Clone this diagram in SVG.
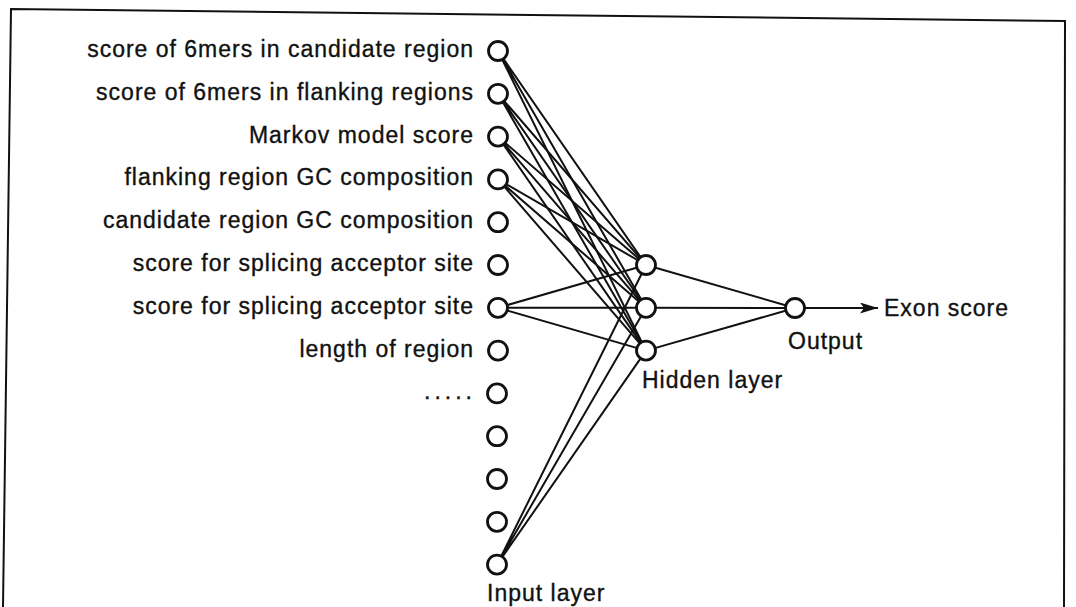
<svg xmlns="http://www.w3.org/2000/svg" width="1076" height="607" viewBox="0 0 1076 607">
<defs>
<style>
.lbl{font-family:"Liberation Sans",Arial,Helvetica,sans-serif;font-size:23px;letter-spacing:1px;fill:#111;stroke:#111;stroke-width:0.35}
.r{text-anchor:end}
.dots{letter-spacing:4px}
.node{fill:#fff;stroke:#111;stroke-width:2.8}
.edge{stroke:#111;stroke-width:2;fill:none}
.frame{stroke:#111;stroke-width:2;fill:none}
</style>
<marker id="arr" viewBox="0 0 18 11" refX="18" refY="5.5" markerWidth="18" markerHeight="11" markerUnits="userSpaceOnUse" orient="auto">
<path d="M0,0 L18,5.5 L0,11 L4,5.5 Z" fill="#111"/>
</marker>
</defs>
<rect width="1076" height="607" fill="#fff"/>
<path class="frame" d="M3,607 L11,9 L1065,21 L1064,607"/>

<g id="connectors" class="edge">
<path d="M498,51 L646,265 M498,51 L646,307.8 M498,51 L646,350.6"/>
<path d="M498,93.8 L646,265 M498,93.8 L646,307.8 M498,93.8 L646,350.6"/>
<path d="M498,136.6 L646,265 M498,136.6 L646,307.8 M498,136.6 L646,350.6"/>
<path d="M498,179.4 L646,265 M498,179.4 L646,307.8 M498,179.4 L646,350.6"/>
<path d="M498,307.8 L646,265 M498,307.8 L646,307.8 M498,307.8 L646,350.6"/>
<path d="M497,564.6 L646,265 M497,564.6 L646,307.8 M497,564.6 L646,350.6"/>
<path d="M646,265 L795,308 M646,307.8 L795,308 M646,350.6 L795,308"/>
<path d="M805,308 L878,308" marker-end="url(#arr)"/>
</g>

<g id="in1"><circle class="node" cx="498" cy="51" r="9.5"/><text class="lbl r" x="474" y="57">score of 6mers in candidate region</text></g>
<g id="in2"><circle class="node" cx="498" cy="93.8" r="9.5"/><text class="lbl r" x="474" y="99.8">score of 6mers in flanking regions</text></g>
<g id="in3"><circle class="node" cx="498" cy="136.6" r="9.5"/><text class="lbl r" x="474" y="142.6">Markov model score</text></g>
<g id="in4"><circle class="node" cx="498" cy="179.4" r="9.5"/><text class="lbl r" x="474" y="185.4">flanking region GC composition</text></g>
<g id="in5"><circle class="node" cx="498" cy="222.2" r="9.5"/><text class="lbl r" x="474" y="228.2">candidate region GC composition</text></g>
<g id="in6"><circle class="node" cx="498" cy="265" r="9.5"/><text class="lbl r" x="474" y="271">score for splicing acceptor site</text></g>
<g id="in7"><circle class="node" cx="498" cy="307.8" r="9.5"/><text class="lbl r" x="474" y="313.8">score for splicing acceptor site</text></g>
<g id="in8"><circle class="node" cx="498" cy="350.6" r="9.5"/><text class="lbl r" x="474" y="356.6">length of region</text></g>
<g id="in9"><circle class="node" cx="497" cy="393.4" r="9.5"/><text class="lbl r dots" x="476" y="399.4">.....</text></g>
<g id="in10"><circle class="node" cx="497" cy="436.2" r="9.5"/></g>
<g id="in11"><circle class="node" cx="497" cy="479" r="9.5"/></g>
<g id="in12"><circle class="node" cx="497" cy="521.8" r="9.5"/></g>
<g id="in13"><circle class="node" cx="497" cy="564.6" r="9.5"/><text class="lbl" x="487" y="601">Input layer</text></g>

<g id="h1"><circle class="node" cx="646" cy="265" r="9.5"/></g>
<g id="h2"><circle class="node" cx="646" cy="307.8" r="9.5"/></g>
<g id="h3"><circle class="node" cx="646" cy="350.6" r="9.5"/><text class="lbl" x="642" y="388">Hidden layer</text></g>

<g id="out"><circle class="node" cx="795" cy="308" r="9.5"/><text class="lbl" x="788" y="349">Output</text></g>
<g id="exon"><text class="lbl" x="884" y="316">Exon score</text></g>
</svg>
